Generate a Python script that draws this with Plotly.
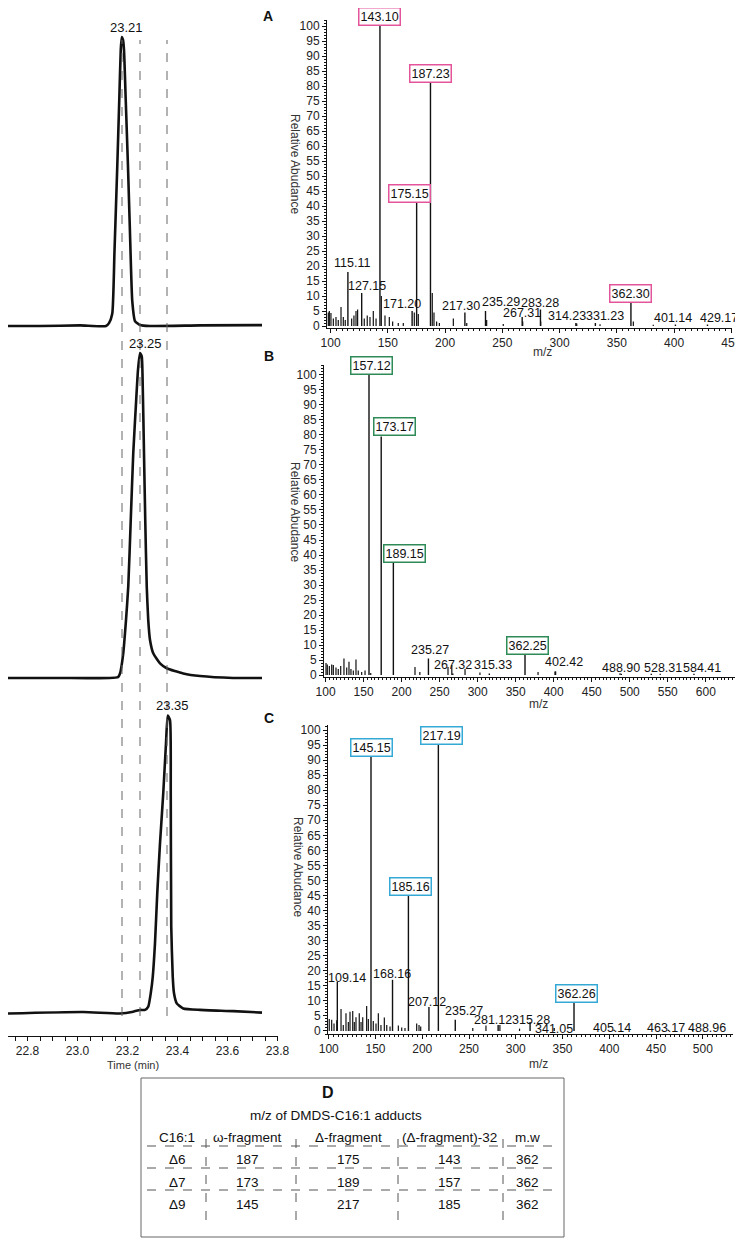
import plotly.graph_objects as go

# page is 743x1245; the html body adds an 8px margin, so the figure itself is 735x1237
PAGE_OFF = 8
W, H = 743 - PAGE_OFF, 1245 - PAGE_OFF
FONT = "Liberation Sans, Arial, Helvetica, sans-serif"

# ---------------- data ----------------
# GC chromatograms: retention time (min) and relative intensity (%)
chromA_time = [22.722, 22.85, 23.01, 23.114, 23.126, 23.139, 23.148, 23.159, 23.167, 23.173, 23.177,
               23.182, 23.186, 23.193, 23.202, 23.21, 23.219, 23.23, 23.25, 23.29, 23.49, 23.738]
chromA_int = [0, 0, 0.2, 0, 1, 4.2, 26, 55, 78, 95.5, 100,
              99, 95.5, 78, 55, 32, 8.7, 1.7, 0.35, 0, 0.2, 0.3]

chromB_time = [22.722, 22.93, 23.162, 23.17, 23.183, 23.194, 23.203, 23.213, 23.223, 23.234, 23.242, 23.25,
               23.257, 23.261, 23.266, 23.271, 23.277, 23.283, 23.29, 23.303, 23.33, 23.357, 23.423,
               23.49, 23.622, 23.738]
chromB_int = [0, 0, 0.3, 1.4, 7.6, 17.8, 28.1, 48.6, 69.1, 84.5, 94.8, 100,
              98.9, 89.6, 69.1, 48.6, 28.1, 17.8, 11.7, 7.6, 4.5, 3, 1.4,
              0.6, 0, 0]

chromC_time = [22.722, 23.022, 23.17, 23.223, 23.25, 23.27, 23.283, 23.293, 23.301, 23.31, 23.319, 23.33,
               23.343, 23.354, 23.361, 23.37, 23.373, 23.375, 23.381, 23.386, 23.397, 23.423, 23.49,
               23.623, 23.738]
chromC_int = [0, 0.5, 0, 0.6, 1.2, 1.2, 2.3, 6.8, 12.3, 23.6, 40.3, 57.1,
              73.9, 90.7, 100, 98.5, 73.9, 29.1, 12.3, 6.8, 3.4, 1.7, 1.2,
              0.8, 0.3]

rt_labels = ["23.21", "23.25", "23.35"]
rt_apex = [23.177, 23.25, 23.361]
divider_times = [23.178, 23.25, 23.358]

# Mass spectra: labelled peaks
A_lab = ["115.11", "127.15", "143.10", "171.20", "175.15", "187.23", "217.30", "235.29",
         "267.31", "283.28", "314.23", "331.23", "362.30", "401.14", "429.17"]
A_lab_int = [18, 11, 100, 5, 41, 81, 4.5, 5, 3, 5.5, 1, 1, 7.7, 0.5, 0.5]
A_boxed = ["143.10", "175.15", "187.23", "362.30"]
# minor peaks
A_mz = [98, 98.9, 100.3, 102.4, 104.7, 106.7, 109.1, 111.1, 112.8, 118.4, 120.4, 122.2, 123.6, 129.4,
        132, 134.4, 137.3, 139.7, 144.3, 147.5, 151.3, 154.2, 159.1, 163.5, 173.1, 176.6, 188.8,
        190.3, 192.6, 195, 207.2, 218.9, 236.3, 250.8, 267.8, 283.5, 315, 335.3, 364.4, 381.8]
A_int = [4.5, 5, 4.3, 2.5, 3, 2, 6.3, 3, 2, 2.5, 3.5, 5, 5.5, 2.5,
         3.5, 3, 5, 2.5, 10, 3.5, 3, 1.5, 1, 1, 4.5, 4, 11,
         4.5, 1.5, 1, 2.5, 1, 2, 0.7, 1.5, 1.5, 0.8, 0.6, 1.5, 0.4]

B_lab = ["157.12", "173.17", "189.15", "235.27", "267.32", "315.33", "362.25", "402.42",
         "488.90", "528.31", "584.41"]
B_lab_int = [100, 79.5, 37.5, 5.5, 0.5, 0.5, 6.7, 1.2, 0.4, 0.4, 0.4]
B_boxed = ["157.12", "173.17", "189.15", "362.25"]
B_mz = [100.6, 102.3, 105, 108.1, 110.2, 113.7, 116.7, 119.9, 124.2, 127.8, 130.8, 133.4, 136.5, 140,
        143, 147.5, 151.9, 159.4, 217.6, 224, 261, 266, 283.4, 303, 379.4, 401.7, 487.2, 540]
B_int = [4, 3.5, 3, 3.5, 3.3, 2.5, 2, 3, 5.5, 2.5, 4.4, 2, 1.5, 5.2,
         1.5, 1, 1.5, 0.7, 2.7, 1, 2.7, 3.3, 2, 0.8, 1, 1.2, 0.6, 0.4]

C_lab = ["109.14", "145.15", "168.16", "185.16", "207.12", "217.19", "235.27", "281.12",
         "315.28", "341.05", "362.26", "405.14", "463.17", "488.96"]
C_lab_int = [16.4, 91, 17, 45, 8, 95, 3.7, 2, 3, 1, 9.3, 0.4, 0.4, 0.4]
C_boxed = ["145.15", "185.16", "217.19", "362.26"]
C_mz = [100.5, 103.1, 105.6, 108.5, 113.1, 115.5, 118.4, 120.9, 122.7, 125.6, 127.3, 129.1, 132.6,
        134.5, 136.3, 140.5, 142.3, 147.6, 150.5, 153, 155.8, 159.4, 162, 165.5, 174.4, 178, 181.5,
        194, 196.5, 198.3, 254, 268.1, 283, 304]
C_int = [4, 3.7, 2.5, 3.6, 7.3, 2, 5.9, 3, 6.4, 6.6, 3, 4.6, 5.9,
         3, 4.6, 8.3, 4, 3.3, 2.5, 5.9, 2, 4.5, 2, 1.5, 1.8, 1.2, 1,
         2.5, 2, 1.5, 1, 1.8, 2, 0.8]

# Table D
table_title = "m/z of DMDS-C16:1 adducts"
table_header = ["C16:1", "ω-fragment", "Δ-fragment", "(Δ-fragment)-32", "m.w"]
table_rows = [["Δ6", "187", "175", "143", "362"],
              ["Δ7", "173", "189", "157", "362"],
              ["Δ9", "145", "217", "185", "362"]]

# ---------------- styling / layout helpers ----------------
def px_x(p):
    return max(0.0, min(1.0, (p - PAGE_OFF) / W))


def px_y(p):
    return max(0.0, min(1.0, 1 - (p - PAGE_OFF) / H))


def paper_text(px, py, text, size, color="#111", angle=0):
    fig.add_annotation(x=px_x(px), y=px_y(py), xref="paper", yref="paper", text=text,
                       xanchor="center", yanchor="middle", textangle=angle, showarrow=False,
                       font=dict(family=FONT, size=size, color=color))


label_shift = {
    "A": {"115.11": (4, 0), "127.15": (5, -2), "171.20": (-10, -2), "175.15": (-7, 0),
          "217.30": (-4, -2), "235.29": (15, 0), "267.31": (0, -5), "283.28": (0, -2),
          "314.23": (-9, -2), "331.23": (10, -2), "401.14": (-2, -2), "429.17": (11, -2)},
    "B": {"157.12": (2, 0), "173.17": (13, 0), "189.15": (11, 0), "362.25": (2, 0),
          "235.27": (2, 0), "315.33": (4, 0), "402.42": (8, 0), "488.90": (0, -3),
          "528.31": (12, -3), "584.41": (8, -3)},
    "C": {"109.14": (10, -5), "168.16": (-1, -3), "185.16": (2, 0), "207.12": (-2, -4),
          "217.19": (3, 0), "235.27": (9, 0), "281.12": (-5, -4), "315.28": (1, -7),
          "341.05": (0, -10), "362.26": (2, 0), "405.14": (-2, -7), "463.17": (-2, -7),
          "488.96": (15, -7)},
}
box_colors = {"A": "#e4549b", "B": "#2e8b57", "C": "#35a9d6"}

fig = go.Figure()

# chromatograms
for t, v, ya in [(chromA_time, chromA_int, "y"), (chromB_time, chromB_int, "y2"),
                 (chromC_time, chromC_int, "y3")]:
    fig.add_trace(go.Scatter(x=t, y=v, xaxis="x", yaxis=ya, mode="lines",
                             line=dict(color="#111111", width=2.6, shape="spline", smoothing=0.5),
                             hoverinfo="skip", showlegend=False))

for lab, t, ya in zip(rt_labels, rt_apex, ["y", "y2", "y3"]):
    fig.add_annotation(x=t, y=100, xref="x", yref=ya, text=lab, showarrow=False,
                       yanchor="bottom", xanchor="center", xshift=5,
                       font=dict(family=FONT, size=13, color="#111"))

for t in divider_times:
    fig.add_shape(type="line", xref="x", yref="paper", x0=t, x1=t,
                  y0=px_y(1016), y1=px_y(40),
                  line=dict(color="#666", width=1, dash="dash"))


def sticks(mz, inten):
    xs, ys = [], []
    for m, v in zip(mz, inten):
        xs += [m, m, None]
        ys += [0, v, None]
    return xs, ys


spectra = [("A", "x2", "y4", A_lab, A_lab_int, A_boxed, A_mz, A_int),
           ("B", "x3", "y5", B_lab, B_lab_int, B_boxed, B_mz, B_int),
           ("C", "x4", "y6", C_lab, C_lab_int, C_boxed, C_mz, C_int)]

for key, xa, ya, labs, lint, boxed, mz, inten in spectra:
    xs, ys = sticks(mz, inten)
    fig.add_trace(go.Scatter(x=xs, y=ys, xaxis=xa, yaxis=ya, mode="lines",
                             line=dict(color="#111", width=1.2), hoverinfo="skip",
                             showlegend=False))
    lmz = [float(s) for s in labs]
    xs, ys = sticks(lmz, lint)
    fig.add_trace(go.Scatter(x=xs, y=ys, xaxis=xa, yaxis=ya, mode="lines",
                             line=dict(color="#111", width=1.4), hoverinfo="skip",
                             showlegend=False))
    for s, m, v in zip(labs, lmz, lint):
        dx, dy = label_shift[key].get(s, (0, 0))
        kw = {}
        if s in boxed:
            kw = dict(bordercolor=box_colors[key], borderwidth=1.5, borderpad=1, bgcolor="white")
        fig.add_annotation(x=m, y=v, xref=xa, yref=ya, text=s, showarrow=False,
                           yanchor="bottom", xanchor="center", xshift=dx, yshift=dy,
                           font=dict(family=FONT, size=12.5, color="#111"), **kw)

# panel letters, axis titles
for letter, (lx, ly) in zip("ABC", [(268, 16), (269, 356), (269, 718)]):
    paper_text(lx, ly, "<b>%s</b>" % letter, 14)
for (tx, ty) in [(295, 164), (295, 512), (298, 867)]:
    paper_text(tx, ty, "Relative Abudance", 12, "#333", 90)
for (tx, ty) in [(542, 352), (538, 704), (538, 1064)]:
    paper_text(tx, ty, "m/z", 12, "#333")
paper_text(133, 1065, "Time (min)", 11, "#333")

# ---------------- table D ----------------
fig.add_shape(type="rect", xref="paper", yref="paper", x0=px_x(141), x1=px_x(564),
              y0=px_y(1237), y1=px_y(1078), line=dict(color="#666", width=1))
paper_text(328, 1092, "<b>D</b>", 16)
paper_text(336, 1115, table_title, 13.5)
col_x = [177, 248, 348, 450, 527]
row_y = [1159, 1182, 1204]
for cx, h in zip(col_x, table_header):
    paper_text(cx, 1137, h, 13.5)
for ry, row in zip(row_y, table_rows):
    for cx, cell in zip(col_x, row):
        paper_text(cx, ry, cell, 13.5)
for hy in [1146, 1168, 1190]:
    fig.add_shape(type="line", xref="paper", yref="paper", x0=px_x(147), x1=px_x(560),
                  y0=px_y(hy), y1=px_y(hy), line=dict(color="#555", width=1, dash="dash"))
for vx in [206, 296, 398, 503]:
    fig.add_shape(type="line", xref="paper", yref="paper", x0=px_x(vx), x1=px_x(vx),
                  y0=px_y(1220), y1=px_y(1133), line=dict(color="#555", width=1, dash="dash"))

# ---------------- axes ----------------
tickfont = dict(family=FONT, size=12, color="#222")
hidden_y = dict(visible=False, showgrid=False, zeroline=False, fixedrange=True, automargin=False)
spec_y = dict(showline=True, linecolor="#111", linewidth=1, ticks="outside", ticklen=4,
              tickcolor="#111", tick0=0, dtick=5, tickfont=tickfont, showgrid=False,
              zeroline=False, automargin=False,
              minor=dict(ticks="outside", ticklen=2, dtick=1, tickcolor="#111"))
spec_x = dict(showline=True, linecolor="#111", linewidth=1, ticks="outside", ticklen=4,
              tickcolor="#111", tick0=0, dtick=50, tickfont=tickfont, showgrid=False,
              zeroline=False, automargin=False,
              minor=dict(ticks="outside", ticklen=2, dtick=5, tickcolor="#111"))

fig.update_layout(
    width=W, height=H, margin=dict(l=0, r=0, t=0, b=0, pad=0, autoexpand=False),
    paper_bgcolor="white", plot_bgcolor="white", showlegend=False,
    xaxis=dict(domain=[px_x(8), px_x(278)], range=[22.722, 23.802], anchor="y3",
               showline=True, linecolor="#111", linewidth=1, ticks="outside", ticklen=4,
               tickcolor="#111", tick0=22.8, dtick=0.2, tickformat=".1f", tickfont=tickfont,
               showgrid=False, zeroline=False, automargin=False,
               minor=dict(ticks="outside", ticklen=4, dtick=0.05, tickcolor="#111")),
    yaxis=dict(domain=[px_y(330), px_y(30)], range=[-1.384, 102.42], **hidden_y),
    yaxis2=dict(domain=[px_y(683), px_y(345)], range=[-1.538, 102.46], **hidden_y),
    yaxis3=dict(domain=[px_y(1036), px_y(705)], range=[-7.55, 103.52], **hidden_y),
    xaxis2=dict(domain=[px_x(327), px_x(732)], range=[96.86, 450.57], anchor="y4", **spec_x),
    yaxis4=dict(domain=[px_y(328), px_y(20)], range=[-0.667, 102], anchor="x2", **spec_y),
    xaxis3=dict(domain=[px_x(324), px_x(737)], range=[97.95, 641.0], anchor="y5", **spec_x),
    yaxis5=dict(domain=[px_y(677), px_y(365)], range=[-0.667, 103.33], anchor="x3", **spec_y),
    xaxis4=dict(domain=[px_x(328), px_x(733)], range=[99.16, 532.3], anchor="y6", **spec_x),
    yaxis6=dict(domain=[px_y(1034), px_y(725)], range=[-1.0, 101.66], anchor="x4", **spec_y),
)

fig.write_html("out.html")
